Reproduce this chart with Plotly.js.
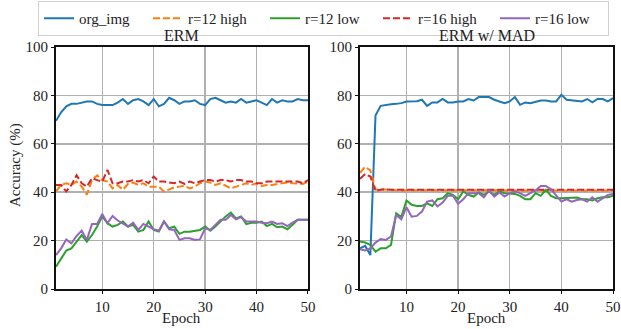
<!DOCTYPE html>
<html>
<head>
<meta charset="utf-8">
<script src="https://cdn.plot.ly/plotly-3.0.1.min.js"></script>
<style>html,body{margin:0;padding:0;background:#fff;}#chart{width:621px;height:329px;}</style>
</head>
<body>
<div id="chart"></div>
<script>
const epochs = Array.from({length: 50}, (_, i) => i + 1);
const seriesNames = ["org_img", "r=12 high", "r=12 low", "r=16 high", "r=16 low"];
const panelTitles = ["ERM", "ERM w/ MAD"];
const xTicks = [10, 20, 30, 40, 50];
const yTicks = [0, 20, 40, 60, 80, 100];

// ERM panel
const ermOrg = [69.5,73,75.5,76.5,76.5,77,77.5,77.5,76.5,76,76,76,77,78.5,76.5,78,78.5,77.5,76,78.5,75.5,76.5,79,78,76.5,77.5,77.5,78,76.5,76,78.5,79,78,77,77.5,77,78.5,77,77.5,78,77,76,78.5,77,78,77.5,77.5,78.5,78,78];
const erm12High = [40.3,43,43.7,43,44.4,42.3,39,45,47,45,44.4,41.6,43,41,43.4,44,43,43.7,42.3,42.3,42.3,40.3,41,42,42.3,42.6,41.6,42.3,43.7,44.4,44,43,43.7,42.6,41.6,42.3,43,43.7,43,43.7,42.6,43,43,43.4,43.7,44,43.7,43.4,43.4,44.4];
const erm12Low = [9.2,12.7,15.9,16.8,19.6,22.3,19.6,22.3,25.8,30,27.2,25.8,26.5,27.9,25.8,26.5,23.7,24.4,27.9,24.4,23.7,27.9,25.1,25.8,22.8,23.7,23.7,24,24.4,25.8,24.1,25.8,27.9,30,31.6,29.2,30,26.8,27.4,27.4,27.9,26,26.9,25.5,25.8,24.7,26.5,28.6,28.6,28.6];
const erm16High = [43,43,40.3,43,47,43.7,42.3,45.8,45,44.4,49.2,43.7,43.7,44.4,44.4,45,44.4,45,43.7,46.5,44.4,44.4,44,43.7,44.4,43.4,44.4,43.7,44.4,45,45,44.4,45,45,44.4,45,45,44.4,44.4,43.7,43.7,44.4,44.4,44.4,44.4,44.4,44.4,44.4,43.7,45];
const erm16Low = [14,16.8,20.5,18.9,21.9,24.1,20.3,26.9,26.9,31,27.2,30.2,28.3,27.2,25.8,27.4,24.4,26.9,25.8,24.7,24.1,27.9,24.7,24.4,20.3,21,21,20.3,20.5,25.1,24.4,26.5,28.6,28.6,30.6,28.8,29.7,27.9,27.9,27.9,27.4,27.2,27.9,26.9,27.2,26,27.4,28.6,28.6,28.6];

// ERM w/ MAD panel
const madOrg = [16.8,17.8,14,71.7,75.7,76.1,76.3,76.5,76.8,77.5,77.5,77.6,78.2,75.7,77.1,77.1,78.5,77.1,77.1,77.5,77.5,78.5,77.9,79.3,79.3,79.3,78.2,77.5,76.8,77.5,79.3,76.1,77.1,76.8,77.5,77.9,77.9,77.5,77.5,80.3,78.2,77.9,77.9,77.5,78.5,77.1,78.5,78.5,77.5,78.9];
const mad12High = [48,50.5,49,41,41.2,41.2,41,40.8,40.6,40.8,40.8,40.7,40.8,40.6,40.7,40.7,40.8,40.6,40.7,40.5,40.7,40.6,40.7,40.7,40.6,40.7,40.7,40.6,40.7,40.7,40.6,40.7,40.7,40.6,40.7,40.7,40.6,40.7,40.7,40.6,40.7,40.7,40.7,40.7,40.7,40.7,40.7,40.7,40.7,40.7];
const mad12Low = [19.6,19.2,18.2,15.4,16.8,16.8,18.2,31.3,29.7,36.6,34.8,34.3,34.3,35.4,34.3,37.1,37.5,39.6,38.9,37.1,40.3,38.9,38.2,39.9,38.9,40.3,38.9,40.3,39.6,39.3,39.3,38.5,37.1,37.1,39.6,38.5,41,38.5,37.5,37.5,37.5,37.8,37.8,37.1,37.1,36.6,37.5,37.9,37.9,38.5];
const mad16High = [45.5,47.5,46.5,40.5,41,41.2,41,41,41,41,41,41,41,41,41,41,41,41,41,41,41,41,41,41,41,41,41,41,41,41,41,41,41,41,41,41,41,41,41,41,41,41,41,41,41,41,41,41,41,41];
const mad16Low = [16.4,15.9,16.8,19.2,20.6,20.3,21.7,30.6,28.8,33.8,29.9,30.2,32,36.1,36.6,34.1,35.7,38.5,38.5,35.2,37.1,39.6,39.6,39.6,37.9,40.7,38.2,39.9,38.2,39.6,40.3,39.6,38.5,39.6,40.7,42.6,42.6,41.2,38.5,36.1,37.1,36.1,36.8,37.1,36.1,37.9,36.1,37.5,38.9,39.3];

const colors = ["#1f77b4", "#ff7f0e", "#2ca02c", "#d62728", "#9467bd"];
const dashes = ["solid", "7px,3px", "solid", "7px,3px", "solid"];
const legendWidths = [64, 72, 68, 72, 68];
const panels = [
  [ermOrg, erm12High, erm12Low, erm16High, erm16Low],
  [madOrg, mad12High, mad12Low, mad16High, mad16Low]
];

const traces = [];
panels.forEach((p, pi) => {
  p.forEach((ys, si) => {
    traces.push({
      x: epochs, y: ys, type: "scatter", mode: "lines",
      name: seriesNames[si], showlegend: pi === 0, legendwidth: legendWidths[si],
      xaxis: pi === 0 ? "x" : "x2", yaxis: pi === 0 ? "y" : "y2",
      line: {color: colors[si], width: 2, dash: dashes[si]}
    });
  });
});

const FAM = "Liberation Serif";
const TXT = "#222";
const font = {family: FAM, size: 15, color: TXT};
const axBase = {
  showline: true, linecolor: "#111", linewidth: 2, mirror: true,
  showgrid: true, gridcolor: "#b0b0b0", gridwidth: 1.5,
  ticks: "outside", ticklen: 3, tickwidth: 1, tickcolor: "#111",
  zeroline: false, tickfont: {family: FAM, size: 15, color: TXT}
};
const xa = Object.assign({}, axBase, {range: [1, 50], tickvals: xTicks});
const ya = Object.assign({}, axBase, {range: [0, 100], tickvals: yTicks});

const L = 56, R = 8, T = 47, B = 40, W = 621, H = 329;
const pw = W - L - R, ph = H - T - B;
const px2x = v => (v - L) / pw;
const py2y = v => (H - B - v) / ph;

const annotations = panelTitles.map((t, i) => ({
  text: t, xref: "paper", yref: "paper",
  x: i === 0 ? 0.2262 : 0.7729, y: 1, yanchor: "bottom", xanchor: "center",
  showarrow: false, yshift: 1, font: {family: FAM, size: 16, color: TXT}
}));
[0.2262, 0.7729].forEach(cx => annotations.push({
  text: "Epoch", xref: "paper", yref: "paper", x: cx, y: py2y(318),
  xanchor: "center", yanchor: "middle", showarrow: false,
  font: {family: FAM, size: 15, color: TXT}
}));
annotations.push({
  text: "Accuracy (%)", xref: "paper", yref: "paper", x: px2x(15), y: py2y(165),
  xanchor: "center", yanchor: "middle", textangle: -90, showarrow: false,
  font: {family: FAM, size: 15, color: TXT}
});

const layout = {
  width: W, height: H,
  margin: {l: L, r: R, t: T, b: B, autoexpand: false},
  paper_bgcolor: "#fff", plot_bgcolor: "#fff",
  font: font,
  xaxis: Object.assign({}, xa, {domain: [0, 0.4524], anchor: "y"}),
  yaxis: Object.assign({}, ya, {domain: [0, 1], anchor: "x"}),
  xaxis2: Object.assign({}, xa, {domain: [0.5458, 1], anchor: "y2"}),
  yaxis2: Object.assign({}, ya, {domain: [0, 1], anchor: "x2"}),
  legend: {
    orientation: "h", x: px2x(38), xanchor: "left", y: py2y(1), yanchor: "top",
    bordercolor: "#d0d0d0", borderwidth: 1, bgcolor: "#fff",
    font: {family: FAM, size: 15, color: TXT}, tracegroupgap: 0
  },
  annotations: annotations
};

Plotly.newPlot("chart", traces, layout, {displayModeBar: false, staticPlot: true});
</script>
</body>
</html>
